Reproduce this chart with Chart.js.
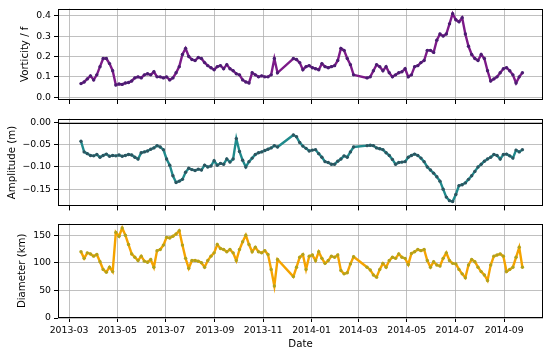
<!DOCTYPE html>
<html>
<head>
<meta charset="utf-8">
<script src="https://cdn.jsdelivr.net/npm/chart.js@4.4.1/dist/chart.umd.min.js"></script>
<style>
  body { margin: 0; background: #fff; }
  #wrap { position: relative; width: 550px; height: 355px; overflow: hidden; }
  .panel { position: absolute; left: 0; width: 550px; }
</style>
</head>
<body>
<div id="wrap">
  <div class="panel" style="top:0;height:110px"><canvas id="chart-vort"></canvas></div>
  <div class="panel" style="top:110px;height:105px"><canvas id="chart-amp"></canvas></div>
  <div class="panel" style="top:215px;height:140px"><canvas id="chart-diam"></canvas></div>
</div>
<script>
// ============================================================
//  Eddy track — vorticity, amplitude, diameter vs date
// ============================================================

// ---- Data (x = days since 2013-03-01) ----
const START = '2013-03-01';

const days = [
  15, 19, 23, 27, 31, 35, 39, 43, 47, 51, 55, 59, 63, 67, 71, 75, 79, 83, 87, 91,
  95, 99, 103, 107, 111, 115, 119, 123, 127, 131, 135, 139, 143, 147, 151, 155, 159, 163, 167, 171,
  175, 179, 183, 187, 191, 195, 199, 203, 207, 211, 215, 219, 223, 227, 231, 235, 239, 243, 247, 251,
  255, 259, 263,
  283, 287, 291, 295, 299, 303, 307, 311, 315, 319, 323, 327, 331, 335, 339, 343, 347, 351, 355, 359,
  376, 380, 384, 388, 392, 396, 400, 404, 408, 412, 416, 420, 424, 428, 432, 436, 440, 444, 448, 452,
  456, 460, 464, 468, 472, 476, 480, 484, 488, 492, 496, 500, 504, 508, 512, 516, 520, 524, 528, 532,
  536, 540, 544, 548, 552, 556, 560, 564, 568, 572
];

const vorticity = [
  0.067, 0.075, 0.09, 0.105, 0.085, 0.11, 0.15, 0.19, 0.19, 0.165,
  0.13, 0.06, 0.065, 0.063, 0.07, 0.072, 0.08, 0.095, 0.10, 0.095,
  0.11, 0.115, 0.11, 0.125, 0.10, 0.10, 0.095, 0.10, 0.085, 0.095,
  0.12, 0.15, 0.21, 0.24, 0.20, 0.185, 0.18, 0.195, 0.19, 0.17,
  0.155, 0.145, 0.135, 0.15, 0.155, 0.14, 0.16, 0.14, 0.13, 0.115,
  0.11, 0.085, 0.075, 0.07, 0.12, 0.11, 0.10, 0.105, 0.10, 0.10,
  0.11, 0.19, 0.12,
  0.19, 0.185, 0.17, 0.135, 0.15, 0.155, 0.145, 0.14, 0.135, 0.165,
  0.15, 0.145, 0.15, 0.155, 0.18, 0.24, 0.23, 0.19, 0.16, 0.11,
  0.095, 0.10, 0.13, 0.16, 0.15, 0.13, 0.15, 0.12, 0.10, 0.11,
  0.12, 0.125, 0.14, 0.10, 0.11, 0.15, 0.155, 0.17, 0.18, 0.23,
  0.23, 0.22, 0.28, 0.31, 0.30, 0.31, 0.36, 0.41, 0.38, 0.37,
  0.39, 0.31, 0.25, 0.21, 0.19, 0.18, 0.21, 0.19, 0.13, 0.08,
  0.09, 0.10, 0.12, 0.14, 0.145, 0.13, 0.11, 0.07, 0.10, 0.12
];

const amplitude = [
  -0.042, -0.066, -0.070, -0.074, -0.075, -0.072, -0.078, -0.074, -0.071, -0.076,
  -0.074, -0.075, -0.073, -0.076, -0.074, -0.072, -0.073, -0.078, -0.082, -0.068,
  -0.066, -0.064, -0.060, -0.057, -0.052, -0.055, -0.061, -0.082, -0.096, -0.120,
  -0.135, -0.132, -0.128, -0.112, -0.103, -0.106, -0.108, -0.105, -0.107, -0.096,
  -0.100, -0.098, -0.086, -0.096, -0.092, -0.094, -0.082, -0.089, -0.082, -0.036,
  -0.065, -0.085, -0.100, -0.088, -0.080, -0.072, -0.068, -0.066, -0.063, -0.060,
  -0.057, -0.052, -0.055,
  -0.028, -0.032, -0.045, -0.053, -0.058, -0.064, -0.062, -0.061, -0.070, -0.078,
  -0.088, -0.090, -0.094, -0.094, -0.087, -0.082, -0.075, -0.078, -0.066, -0.055,
  -0.052, -0.051, -0.052, -0.057, -0.059, -0.061, -0.068, -0.074, -0.083, -0.094,
  -0.090, -0.089, -0.088, -0.078, -0.074, -0.071, -0.074, -0.080, -0.088, -0.100,
  -0.107, -0.114, -0.122, -0.132, -0.150, -0.168, -0.176, -0.178, -0.162, -0.142,
  -0.140, -0.136, -0.128, -0.120, -0.110, -0.100, -0.094, -0.087, -0.082, -0.078,
  -0.072, -0.074, -0.082, -0.072, -0.071, -0.075, -0.080, -0.062, -0.066, -0.061
];

const diameter = [
  120, 108, 118, 116, 112, 115, 102, 88, 83, 92,
  84, 155, 148, 163, 150, 133, 116, 110, 104, 112,
  103, 101, 106, 92, 122, 124, 132, 146, 145, 148,
  152, 158, 132, 108, 90, 104, 104, 103, 100, 92,
  104, 112, 118, 133, 126, 124, 120, 124, 118, 104,
  124, 138, 150, 133, 120, 128, 120, 118, 122, 115,
  88, 58, 106,
  75, 92, 110, 115, 88, 112, 114, 104, 120, 108,
  99, 104, 112, 110, 114, 86, 80, 82, 98, 111,
  92, 87, 78, 74, 88, 99, 92, 104, 110, 108,
  116, 110, 108, 97, 117, 120, 124, 122, 124, 104,
  92, 102, 96, 94, 108, 118, 104, 99, 98, 88,
  80, 73, 96, 106, 102, 92, 84, 78, 68, 96,
  112, 114, 116, 112, 84, 88, 92, 110, 128, 92
];

// ---- Tick labels ----
const xTickLabels = ['2013-03', '2013-05', '2013-07', '2013-09', '2013-11',
                     '2014-01', '2014-03', '2014-05', '2014-07', '2014-09'];
const vortTicks = [0, 0.1, 0.2, 0.3, 0.4];
const ampTicks = [0, -0.05, -0.10, -0.15];
const diamTicks = [0, 50, 100, 150];

// month label -> day offset from START
const t0 = Date.parse(START + 'T00:00:00Z');
const xTickDays = xTickLabels.map(s => (Date.parse(s + '-01T00:00:00Z') - t0) / 864e5);

// ---- Global defaults ----
Chart.defaults.font.family = "'DejaVu Sans', sans-serif";
Chart.defaults.color = '#000';

// Box around each axes
const framePlugin = {
  id: 'frame',
  afterDraw(chart) {
    const { ctx, chartArea: a } = chart;
    const l = Math.round(a.left) + 0.5, t = Math.round(a.top) + 0.5;
    const r = Math.round(a.right) - 0.5, b = Math.round(a.bottom) - 0.5;
    ctx.save();
    ctx.strokeStyle = '#000';
    ctx.lineWidth = 1;
    ctx.strokeRect(l, t, r - l, b - t);
    ctx.restore();
  }
};

// Black line at y = 0 (amplitude panel)
const zeroLinePlugin = {
  id: 'zeroLine',
  beforeDatasetsDraw(chart) {
    const { ctx, chartArea: a, scales } = chart;
    const y = Math.round(scales.y.getPixelForValue(0)) + 0.5;
    ctx.save();
    ctx.strokeStyle = '#000';
    ctx.lineWidth = 1;
    ctx.beginPath();
    ctx.moveTo(a.left, y);
    ctx.lineTo(a.right, y);
    ctx.stroke();
    ctx.restore();
  }
};

const gridStyle = {
  color: '#b0b0b0',
  lineWidth: 0.8,
  tickColor: '#000',
  tickLength: 4,
  tickWidth: 1
};

function buildPanel(id, cfg) {
  const points = days.map((d, i) => ({ x: d, y: cfg.values[i] }));
  return new Chart(document.getElementById(id), {
    type: 'line',
    data: {
      datasets: [{
        data: points,
        borderColor: cfg.lineColor,
        borderWidth: 2.4,
        pointRadius: 1.7,
        pointBorderWidth: 0,
        pointBackgroundColor: cfg.markerColor,
        tension: 0,
        fill: false
      }]
    },
    plugins: cfg.plugins,
    options: {
      responsive: true,
      maintainAspectRatio: false,
      animation: false,
      layout: { padding: cfg.padding },
      plugins: { legend: { display: false }, tooltip: { enabled: false } },
      scales: {
        x: {
          type: 'linear',
          min: -14,
          max: 598,
          grid: gridStyle,
          border: { display: false },
          afterBuildTicks: s => { s.ticks = xTickDays.map(v => ({ value: v })); },
          afterFit: s => { s.height = cfg.xHeight; },
          ticks: {
            display: cfg.showDates,
            maxRotation: 0,
            padding: 3,
            font: { size: 9.3 },
            callback: (v, i) => xTickLabels[i]
          },
          title: {
            display: cfg.showDates,
            text: 'Date',
            font: { size: 10.2 },
            padding: { top: 0, bottom: 5 }
          }
        },
        y: {
          min: cfg.yMin,
          max: cfg.yMax,
          grid: gridStyle,
          border: { display: false },
          afterBuildTicks: s => { s.ticks = cfg.yTicks.map(v => ({ value: v })); },
          afterFit: s => { s.width = 58 - cfg.padding.left; },
          ticks: {
            padding: 3,
            font: { size: 9.3 },
            callback: cfg.fmt
          },
          title: {
            display: true,
            text: cfg.title,
            font: { size: 10.2 },
            padding: { top: 0, bottom: 0 }
          }
        }
      }
    }
  });
}

// ----------------------------------------------------------
//  Panel 1 · Vorticity / f
// ----------------------------------------------------------
buildPanel('chart-vort', {
  values: vorticity,
  lineColor: '#7d1a88',
  markerColor: '#4a1d72',
  yMin: -0.0135, yMax: 0.435,
  yTicks: vortTicks,
  fmt: v => v.toFixed(1),
  title: 'Vorticity / f',
  padding: { left: 19, right: 7, top: 6, bottom: 6 },
  xHeight: 4,
  showDates: false,
  plugins: [framePlugin]
});

// ----------------------------------------------------------
//  Panel 2 · Amplitude (m)
// ----------------------------------------------------------
buildPanel('chart-amp', {
  values: amplitude,
  lineColor: '#1f8a8c',
  markerColor: '#2c5560',
  yMin: -0.189, yMax: 0.0091,
  yTicks: ampTicks,
  fmt: v => (v < 0 ? '\u2212' : '') + Math.abs(v).toFixed(2),
  title: 'Amplitude (m)',
  padding: { left: 6, right: 7, top: 5, bottom: 2.5 },
  xHeight: 4,
  showDates: false,
  plugins: [zeroLinePlugin, framePlugin]
});

// ----------------------------------------------------------
//  Panel 3 · Diameter (km)
// ----------------------------------------------------------
buildPanel('chart-diam', {
  values: diameter,
  lineColor: '#f5a300',
  markerColor: '#b3a21a',
  yMin: 0, yMax: 171,
  yTicks: diamTicks,
  fmt: v => String(v),
  title: 'Diameter (km)',
  padding: { left: 16, right: 7, top: 8.5, bottom: 0 },
  xHeight: 37,
  showDates: true,
  plugins: [framePlugin]
});
</script>
</body>
</html>
